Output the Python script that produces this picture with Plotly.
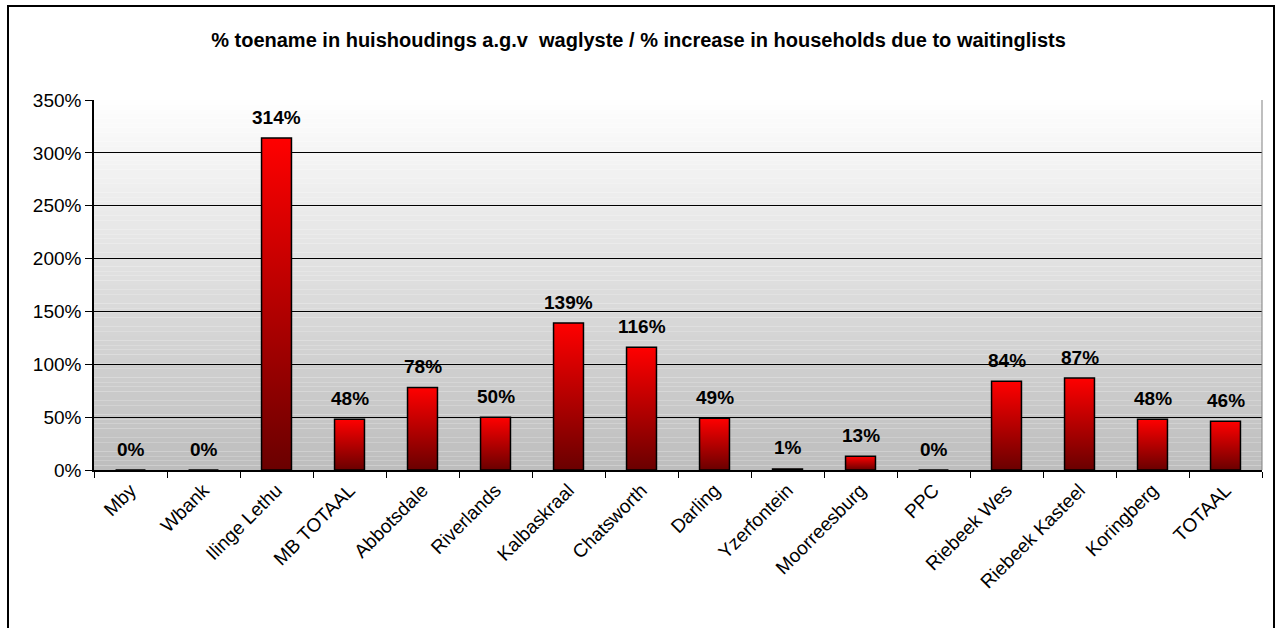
import plotly.graph_objects as go

# Data: % increase in households due to waiting lists
categories = ["Mby", "Wbank", "Ilinge Lethu", "MB TOTAAL", "Abbotsdale", "Riverlands",
              "Kalbaskraal", "Chatsworth", "Darling", "Yzerfontein", "Moorreesburg", "PPC",
              "Riebeek Wes", "Riebeek Kasteel", "Koringberg", "TOTAAL"]
values = [0.00, 0.00, 3.14, 0.48, 0.78, 0.50, 1.39, 1.16, 0.49, 0.01, 0.13, 0.00,
          0.84, 0.87, 0.48, 0.46]
y_ticks = [0, 0.5, 1.0, 1.5, 2.0, 2.5, 3.0, 3.5]

FONT = "Arial, Liberation Sans, sans-serif"
HALF_W = 0.205  # half bar width in category units

fig = go.Figure()

# Bars drawn as filled polygons so each can carry a vertical red gradient
for i, (cat, v) in enumerate(zip(categories, values)):
    x0, x1 = i - HALF_W, i + HALF_W
    fig.add_trace(go.Scatter(
        x=[x0, x1, x1, x0, x0],
        y=[0, 0, v, v, 0],
        mode="lines",
        fill="toself",
        fillgradient=dict(type="vertical",
                          colorscale=[[0, "#6a0000"], [1, "#ff0000"]]),
        line=dict(color="#000000", width=1.5),
        hoverinfo="skip",
        showlegend=False,
        name=cat,
    ))

# Value labels above the bars
for i, v in enumerate(values):
    fig.add_annotation(x=i, y=v, text=f"<b>{round(v * 100)}%</b>", showarrow=False,
                       yshift=21, font=dict(family=FONT, size=19, color="#000000"),
                       xref="x", yref="y")

# Plot-area background: soft white-to-grey gradient built from thin bands
n_bands = 80
shapes = []
for k in range(n_bands):
    t = (k + 0.5) / n_bands  # 0 at bottom, 1 at top
    g = round(0xbd + (0xfe - 0xbd) * t)
    shapes.append(dict(type="rect", xref="x domain", yref="y domain",
                       x0=0, x1=1, y0=k / n_bands, y1=(k + 1) / n_bands,
                       fillcolor=f"rgb({g},{g},{g})", line=dict(width=0),
                       layer="below"))
# right edge of the plot area
shapes.append(dict(type="line", xref="x domain", yref="y domain", x0=1, x1=1,
                   y0=0, y1=1, line=dict(color="#808080", width=1), layer="above"))
# outer chart frame (runs past the bottom of the page)
L, R, T, B = 94, 15, 100, 158
W, H = 1277, 628
pw, ph = W - L - R, H - T - B
shapes.append(dict(type="rect", xref="paper", yref="paper",
                   x0=(8 - L) / pw, x1=(1274 - L) / pw,
                   y0=(H - B - 660) / ph, y1=(H - B - 6) / ph,
                   line=dict(color="#000000", width=2), fillcolor="rgba(0,0,0,0)",
                   layer="above"))

fig.update_layout(
    width=W, height=H,
    margin=dict(l=L, r=R, t=T, b=B),
    paper_bgcolor="#ffffff",
    plot_bgcolor="rgba(0,0,0,0)",
    shapes=shapes,
    title=dict(text="<b>% toename in huishoudings a.g.v  waglyste / % increase in households due to waitinglists</b>",
               x=0.5, xref="container", xanchor="center",
               y=1 - 40 / H, yref="container", yanchor="middle",
               font=dict(family=FONT, size=20, color="#000000")),
    font=dict(family=FONT, color="#000000"),
    xaxis=dict(
        range=[-0.5, len(categories) - 0.5],
        tickmode="array", tickvals=list(range(len(categories))), ticktext=categories,
        tickangle=-45, ticks="", tickfont=dict(family=FONT, size=19, color="#000000"),
        showgrid=False, zeroline=False,
        showline=True, linecolor="#000000", linewidth=1.5,
        minor=dict(tickmode="linear", tick0=-0.5, dtick=1, ticks="outside",
                   ticklen=6, tickcolor="#000000", tickwidth=1, showgrid=False),
    ),
    yaxis=dict(
        range=[0, 3.5], tickmode="array", tickvals=y_ticks,
        tickformat=".0%", ticks="outside", ticklen=7, tickcolor="#000000",
        tickfont=dict(family=FONT, size=19, color="#000000"),
        showgrid=True, gridcolor="#000000", gridwidth=1,
        zeroline=False, showline=True, linecolor="#000000", linewidth=1.5,
    ),
)

fig.write_html("out.html")
